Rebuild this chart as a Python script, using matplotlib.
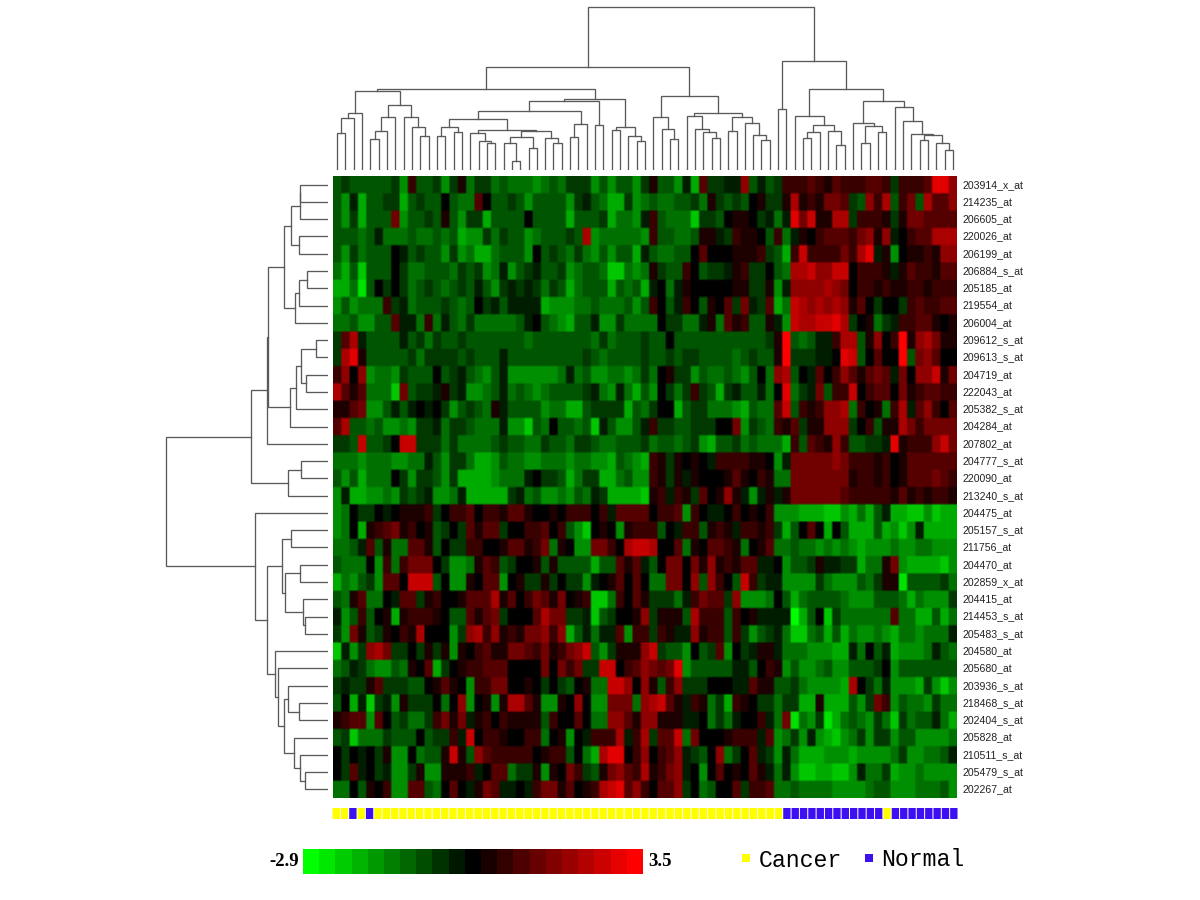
import numpy as np
import matplotlib
matplotlib.use("Agg")
import matplotlib.pyplot as plt
from matplotlib.colors import LinearSegmentedColormap, TwoSlopeNorm

W, H = 1200, 900

gene_labels = ["203914_x_at", "214235_at", "206605_at", "220026_at", "206199_at", "206884_s_at",
               "205185_at", "219554_at", "206004_at", "209612_s_at", "209613_s_at", "204719_at",
               "222043_at", "205382_s_at", "204284_at", "207802_at", "204777_s_at", "220090_at",
               "213240_s_at", "204475_at", "205157_s_at", "211756_at", "204470_at", "202859_x_at",
               "204415_at", "214453_s_at", "205483_s_at", "204580_at", "205680_at", "203936_s_at",
               "218468_s_at", "202404_s_at", "205828_at", "210511_s_at", "205479_s_at", "202267_at"]

# one character per cell: a..i green (weak to strong), 0 black, 1..9 red (weak to strong)
heat_rows = [
    "cbccc ccbe2 ccbeb 1dbbd cddde dcdbb becec ceb1c ceaf3 bbaa5 cacb2 22321 32223 32b22 23885",
    "ceafc cbbfc bcc0c dd30c cbcec ccceb acdff bedcd dccbd 1bcbc 01bb1 61214 43bc5 26c24 c6335",
    "cebfc cc4ec cbc1c ebbfc ccc0c cccfc ccbfd dea2c dddgb bc011 0bada 84711 66b22 21b14 43333",
    "cccdc adddc ddcdc feebd bcced cccbc 6eddd dde2c cddc1 1ab21 10c2d a1023 33245 15a02 33666",
    "cebdc cc0ac bcceb edffd ccce0 cbcdb decec cfacd dcc03 00011 12bcf 27222 24268 a1e01 12155",
    "dfcgc cc0bd dcccd bcbed aecba ccbed ccdgg ded1b cc20c bba12 bb0cd 66755 77022 21a13 22133",
    "ffdhc 0b0bd cbcdc bcace babab dbcfd cccfc dcfa0 da100 00011 bb1ea 55556 54022 12112 21222",
    "ecedd d2bad cccbc dc0ba caaaa feeed dcddd cec20 ca20c 103b4 ab3fd 76565 65130 b00b2 32233",
    "ddcee cc3aa d2dac dbddd ddca0 cdefc caeeb dddd0 bbdda 1d312 cc1ae 76677 86b01 dba22 33101",
    "b36ac cccac bdbcc bcccc cccdc ccccc cdbdc ccbcc 0cccc ccccc ccb19 cdcaa 266c1 50291 56411",
    "b681c ccccb dbbbb cbccc acccc ccccc bcdcc ccbcc bcbbc cccdc bcc19 bbbaa 087c0 3009c 45300",
    "2505e ddebc cc0cb acdec aeeee eedad ceedd edbd0 1bbec ddcde c0d56 c0a30 25313 43a40 55714",
    "6313d ddg4c bba1b aeedc adcde dcccc badea dfce0 bdb2b cfbac cad08 dba4c 22702 33041 23322",
    "1134e ecaca 0a0be cbcd1 acccc eddff cbbbb fcdb0 0fcbb dddef cdd37 c2125 56d20 1d26a 35203",
    "36ccd ceede bbadb bcddd aeegc d0ccd cgace eca2b bccbb b004e bcd21 3b115 55b02 c1164 24444",
    "bbc7c cb077 bbbdb ddddc bccdd bccdb bcddc ccbdc cdcbe fccbd cdddf 2c321 52ccb ba812 22574",
    "ddded ddeed daceb bdffe cddee ddded deefc def21 b1010 a2222 110ea 44444 54222 12013 33333",
    "cecfd dd0be bbceb ffffe ddda0 bbcfd bbffd cee21 b1a10 00131 021dd 44444 44122 12013 33432",
    "eaffe edebc baeed affff fbadc eedec dabff ffg12 a21b3 0151a ea1a1 44444 43222 22131 21221",
    "ed0bb 0a011 12b02 23022 13310 01022 202a3 33302 23e20 aa020 102ee efffg gefdf caffg gegff",
    "ed0f1 23412 01cb0 b3133 b0022 302ce g010e 1222c 0a22c 121a2 212bf c030f 0cfff cfege affff",
    "ddca3 c1dd3 31c0b b2200 13312 4d10e e4420 67760 03d10 3321d 013dd cdded edefe eedee ddeee",
    "cddd0 e2d24 440be ed132 cb001 c1ccc cfcc3 13ac0 44041 51213 3aa0e ccb1a abbfd d14ef fffge",
    "fdecb e3307 77c0e e1033 e01bb 1b0bb ea013 030dd 4405c 520c7 2baae eeebd eeecd b11hc cccbd",
    "cd13d d0a33 b1200 13336 13024 31401 2ggd2 031bb bda24 33b5e eed0c fdccc cdeee cccdf deeeb",
    "aec2c 01f12 2210c c3134 b0003 644bb agcb0 015b1 11c62 22c20 1aaaa ifc0g bdddd dd3dd ffcfd",
    "be41c b1021 6000e b5625 12144 525fc adaa3 e22b2 1aa51 22c2b ecbad ggdcf cfdee defdd eddda",
    "gaeb5 64bb0 b1b1e 10231 14432 41245 7ceb1 1157b cce0c b3e0b a11ad ddeee ffad0 cafee edacd",
    "dcabd eecd1 03fb0 12233 30000 40424 bb770 23543 48ecc cccaa c021e ceedc eeccc b0ecc ccccc",
    "babb1 3bbbc c0131 0e224 40010 b0bc0 1dd77 5051c 25bbb 000aa 311cc bdeee ef60b daeee fbege",
    "c0fag bae1b bb0d0 5e01e 16631 ee105 0ee44 4d567 31a21 dbf21 0bbdb bff1f ffceb 42ecd debdd",
    "1233e 30cbd db241 4a120 21111 c2003 0dd55 31551 11aa0 dbda0 02ad4 hdebh fdcde bdgbd ccadf",
    "cbgdd dbccc 0cbb2 a7022 10022 d01e0 a2226 a26b3 37d40 00122 2a3ed beaef gedbe bbecc eeeed",
    "0b0a0 b1ee0 dcc17 1c532 22220 122c0 df688 02502 35abc 05db0 3abea dfffe eefee eedbe eddca",
    "0b3a0 baeeb 1ee11 12a03 3dbb1 e1042 bc145 32612 45a0e 03010 31ada eggff ggead dbfee deeee",
    "dd0c1 02ee3 3cd03 0a143 aa0a2 44130 12678 35203 35b0d c003b 223dd cdddd eeeed cceee dddce",
]

# C cancer, N normal, one per column
sample_classes = "CCNCN" + "C" * 49 + "N" * 12 + "C" + "N" * 8

# trees: (distance, left, right), leaves are column / row numbers
col_tree = (162.7,
    (102.7,
        (81.3,
            (79.3,
                (57.3, (51.7, (37.3, 0, 1), 2), 3),
                (65, (52.7, (39.3, (30.7, 4, 5), 6), 7),
                     (52.7, 8, (43.3, 9, (34, 10, 11))))),
            (71.3,
                (68.7,
                    (59,
                        (51, (43.3, (34, 12, 13), (38.3, 14, 15)),
                             (40, (37.3, 16, (29.3, 17, (26.7, 18, 19))),
                                  (39.3, (32.7, (27.3, 20, (9.3, 21, 22)), (21.7, 23, 24)),
                                         (31.7, 25, (26.7, 26, 27))))),
                        (46, (32.7, 28, 29), 30)),
                    (45, 31, 32)),
                (43.3, (40, 33, 34), (34, 35, (28.7, 36, 37))))),
        (73.7,
            (52.7, 38, (40.7, 39, (30.7, 40, 41))),
            (57.3,
                (54, 42, (40.7, 43, (37.7, 44, (31.7, 45, 46)))),
                (52.7, (39.3, 47, 48), (47.3, 49, (35, 50, (30, 51, 52))))))),
    (108.7,
        (60.7, 53, 54),
        (80.7,
            (54.3, 55, (45, (38.3, (31.7, 56, 57), 58), (39.3, 59, (25, 60, 61)))),
            (68.7,
                (47.3, 62, (44, (27.3, 63, 64), (38.3, 65, 66))),
                (62.7, 67, (49.3, 68, (36, 69, (35, (30, 70, 71), (26.7, 72, (20, 73, 74)))))))))
)

row_tree = (161.7,
    (77.3,
        (61.3,
            (60,
                (44, (37.3, (28.3, (27.7, 0, 1), 2), (29, 3, 4)),
                     (33.3, (29.3, (20.7, 5, 6), 7), 8)),
                (38.3, (32.3, (27.3, (12.3, 9, 10), (22.3, 11, 12)), 13), 14)),
            15),
        (40, (26.7, 16, 17), 18)),
    (73.3,
        19,
        (61.3,
            (46.3, (37.3, 20, 21),
                   (42.7, (27.7, 22, 23), (25, 24, (22.7, 25, 26)))),
            (53, 27,
                 (50, 28,
                      (44, (40, 29, (29.3, 30, 31)),
                           (34, 32, (28.3, 33, (23.3, 34, 35))))))))
)

vmin, vmax = -2.9, 3.5
green_levels = "abcdefghi"


def decode_cell(ch):
    if ch in green_levels:
        return vmin * (green_levels.index(ch) + 1) / 9
    return vmax * int(ch) / 9


def px_axes(fig, x0, y0, x1, y1):
    # axes from pixel box, y counted from the top
    return fig.add_axes([x0 / W, 1 - y1 / H, (x1 - x0) / W, (y1 - y0) / H])


def draw_tree(ax, node, horizontal):
    # returns (position, distance) of the node
    if not isinstance(node, tuple):
        return node + 0.5, 0
    d, left, right = node
    p1, d1 = draw_tree(ax, left, horizontal)
    p2, d2 = draw_tree(ax, right, horizontal)
    a = [p1, p1, p2, p2]
    b = [d1, d, d, d2]
    if horizontal:
        ax.plot(b, a, color="#5a5a5a", lw=0.95, solid_joinstyle="miter")
    else:
        ax.plot(a, b, color="#5a5a5a", lw=0.95, solid_joinstyle="miter")
    return (p1 + p2) / 2, d


matrix = np.array([[decode_cell(c) for c in r.replace(" ", "")] for r in heat_rows])
n_rows, n_cols = matrix.shape

cmap = LinearSegmentedColormap.from_list("gbr", ["#00ff00", "#000000", "#ff0000"])
norm = TwoSlopeNorm(vmin=vmin, vcenter=0, vmax=vmax)

fig = plt.figure(figsize=(12, 9), dpi=100)

# heatmap, repeated cells + bilinear to get the soft cell edges of the scan
ax = px_axes(fig, 333, 176, 957, 798)
soft = np.repeat(np.repeat(matrix, 8, axis=0), 4, axis=1)
ax.imshow(soft, cmap=cmap, norm=norm, aspect="auto", interpolation="bilinear",
          interpolation_stage="rgba")
ax.axis("off")

# gene labels
for i, name in enumerate(gene_labels):
    ax.annotate(name, xy=(1, 1 - (i + 0.5) / n_rows), xycoords="axes fraction", xytext=(4.3, 0),
                textcoords="offset points", va="center", ha="left", fontsize=7.6,
                family="Liberation Sans", color="#222222")

# top dendrogram
ax_top = px_axes(fig, 333, 0, 957, 170)
draw_tree(ax_top, col_tree, False)
ax_top.set_xlim(0, n_cols)
ax_top.set_ylim(0, 170)
ax_top.axis("off")

# left dendrogram
ax_left = px_axes(fig, 160, 176, 328, 798)
draw_tree(ax_left, row_tree, True)
ax_left.set_ylim(n_rows, 0)
ax_left.set_xlim(168, 0)
ax_left.axis("off")

# class strip
ax_strip = px_axes(fig, 332, 808, 958, 819)
strip_colors = ["#ffff00" if c == "C" else "#3c10f0" for c in sample_classes]
ax_strip.bar(np.arange(n_cols) + 0.5, np.ones(n_cols), width=0.88, color=strip_colors,
             linewidth=0, snap=False)
ax_strip.set_xlim(0, n_cols)
ax_strip.set_ylim(0, 1)
ax_strip.axis("off")

# colour key
ax_key = px_axes(fig, 303, 849, 643, 874)
ax_key.imshow(np.linspace(0, 1, 21)[None, :], cmap=cmap, aspect="auto", interpolation="nearest")
ax_key.axis("off")
fig.text(299 / W, 1 - 862 / H, "-2.9", ha="right", va="center", fontsize=13.5,
         family="Liberation Serif", weight="bold")
fig.text(648 / W, 1 - 861 / H, "3.5", ha="left", va="center", fontsize=13.5,
         family="Liberation Serif", weight="bold")

# legend
ax_leg = px_axes(fig, 0, 0, W, H)
ax_leg.patch.set_alpha(0)
ax_leg.set_xlim(0, W)
ax_leg.set_ylim(H, 0)
ax_leg.axis("off")
ax_leg.scatter([746], [858], marker="s", s=30, color="#ffff00", linewidths=0)
ax_leg.scatter([869], [858], marker="s", s=30, color="#3c10f0", linewidths=0)
ax_leg.text(759, 867, "Cancer", ha="left", va="baseline", fontsize=16.7, family="Liberation Mono")
ax_leg.text(881, 866, "Normal", ha="left", va="baseline", fontsize=16.7, family="Liberation Mono")

fig.savefig("out.png", dpi=100)
